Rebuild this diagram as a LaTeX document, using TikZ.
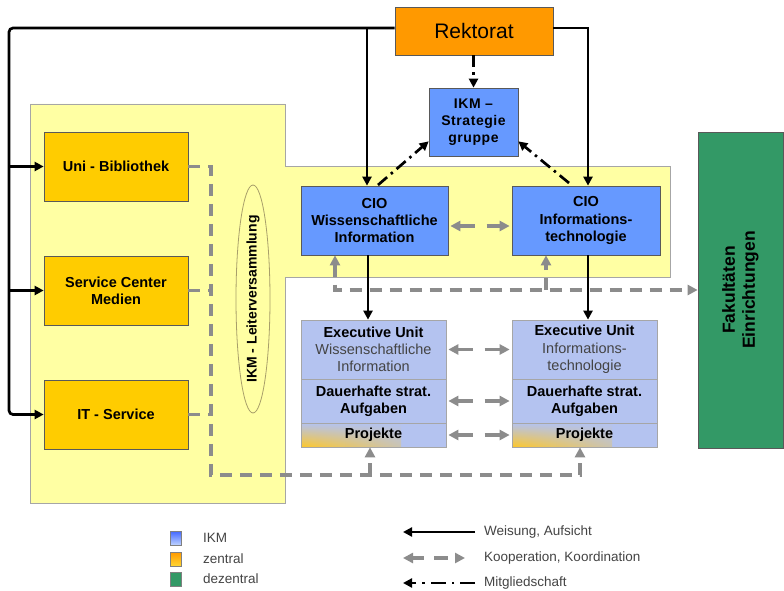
\documentclass[tikz,border=0pt]{standalone}
\usepackage{fontspec}
\setmainfont{Liberation Sans}
\usetikzlibrary{arrows.meta,calc,shapes.geometric,fadings}
\definecolor{ikm}{HTML}{6699FF}
\definecolor{zen}{HTML}{FFCC00}
\definecolor{rek}{HTML}{FF9900}
\definecolor{dez}{HTML}{339966}
\definecolor{eu}{HTML}{B4C3F0}
\definecolor{yel}{HTML}{FFFFA3}
\definecolor{gline}{HTML}{8C8C8C}
\definecolor{txt}{HTML}{444444}
\definecolor{projor}{HTML}{FFC829}
\definecolor{ellc}{HTML}{A89F6A}
\begin{document}
\begin{tikzpicture}[x=1pt,y=-1pt,
  box/.style={draw=black!65, line width=0.7pt, inner sep=0pt, align=center, font=\fontsize{14.5}{17.3}\selectfont\bfseries},
  blk/.style={line width=2.7pt, draw=black},
  dd/.style={line width=2.7pt, draw=black, dash pattern=on 12pt off 5pt on 2.5pt off 5pt},
  gd/.style={line width=3.2pt, draw=gline, dash pattern=on 12pt off 8pt},
  gdd/.style={line width=3.2pt, draw=gline, dash pattern=on 15pt off 12pt, {Triangle[length=10pt,width=10pt]}-{Triangle[length=10pt,width=10pt]}, shorten <=2pt, shorten >=2pt},
  bt/.style={-{Triangle[length=9pt,width=9pt]}},
  gt/.style={-{Triangle[length=10pt,width=10pt]}},
  lab/.style={font=\fontsize{13.5}{16}\selectfont, text=txt, anchor=west, inner sep=0pt},
  proj/.style={box, fill=eu, path picture={\shade[left color=projor, right color=eu, path fading=north] (path picture bounding box.south west) rectangle ($(path picture bounding box.north west)+(100,0)$);}}
]
\useasboundingbox (0,0) rectangle (784,591);
\fill[white] (0,0) rectangle (784,591);

% yellow region
\draw[fill=yel, draw=black!35, line width=0.7pt] (30,104) -- (285,104) -- (285,166) -- (670,166) -- (670,277) -- (285,277) -- (285,503) -- (30,503) -- cycle;

% nodes
\node[box, fill=rek, minimum width=158, minimum height=48, font=\fontsize{21}{24}\selectfont] (rek) at (474,31) {Rektorat};
\node[box, fill=ikm, minimum width=89, minimum height=68, font=\fontsize{14}{17}\selectfont\bfseries\addfontfeature{LetterSpace=4}] (ikms) at (473.5,122) {IKM –\\Strategie\\gruppe};
\node[box, fill=ikm, minimum width=147, minimum height=69] (ciowi) at (374.5,220.5) {CIO\\Wissenschaftliche\\Information};
\node[box, fill=ikm, minimum width=148, minimum height=69] (cioit) at (586,220.5) {CIO\\Informations-\\technologie};

\node[box, fill=zen, minimum width=144, minimum height=69] (uni) at (116,166.5) {Uni - Bibliothek};
\node[box, fill=zen, minimum width=144, minimum height=69] (scm) at (116,290.5) {Service Center\\Medien};
\node[box, fill=zen, minimum width=144, minimum height=69] (its) at (116,414.5) {IT - Service};

\node[box, fill=eu, draw=black!35, minimum width=145, minimum height=59] (euwi1) at (373.5,349.5) {Executive Unit\\\mdseries\color{txt}Wissenschaftliche\\\mdseries\color{txt}Information};
\node[box, fill=eu, draw=black!35, minimum width=145, minimum height=44] (euwi2) at (373.5,401) {Dauerhafte strat.\\Aufgaben};
\node[proj, draw=black!35, minimum width=145, minimum height=24] (euwi3) at (373.5,435) {Projekte};

\node[box, fill=eu, draw=black!35, minimum width=145, minimum height=59] (euit1) at (584.5,349.5) {Executive Unit\\\mdseries\color{txt}Informations-\\\mdseries\color{txt}technologie};
\node[box, fill=eu, draw=black!35, minimum width=145, minimum height=44] (euit2) at (584.5,401) {Dauerhafte strat.\\Aufgaben};
\node[proj, draw=black!35, minimum width=145, minimum height=24] (euit3) at (584.5,435) {Projekte};

\node[box, fill=dez, minimum width=85, minimum height=316] (fak) at (740.5,290) {};
\node[rotate=90, align=center, inner sep=0pt, font=\fontsize{17.5}{20}\selectfont\bfseries] (faktext) at (fak.center) {Fakultäten\\Einrichtungen};

\node[ellipse, draw=ellc, line width=0.8pt, minimum width=34, minimum height=228, inner sep=0pt] (lv) at (253,299) {};
\node[rotate=90, inner sep=0pt, font=\fontsize{14}{17}\selectfont\bfseries] (lvtext) at (lv.center) {IKM - Leiterversammlung};

% black lines
\coordinate (L1) at (9,28);
\coordinate (vA) at (367,28);
\coordinate (vB) at (588,28);
\draw[blk, bt, rounded corners=4pt] (rek.west |- L1) -- (L1) |- (its.west);
\draw[blk, bt] (L1 |- uni.west) -- (uni.west);
\draw[blk, bt] (L1 |- scm.west) -- (scm.west);
\draw[blk, bt] (vA) -- (vA |- ciowi.north);
\draw[blk, bt] (rek.east |- vB) -- (vB) -- (vB |- cioit.north);
\coordinate (cA) at (368,0);
\coordinate (cB) at (588,0);
\draw[blk, bt] (cA |- ciowi.south) -- (cA |- euwi1.north);
\draw[blk, bt] (cB |- cioit.south) -- (cB |- euit1.north);

% dash-dot (Mitgliedschaft)
\draw[dd, bt] (rek.south -| ikms.north) -- (ikms.north);
\coordinate (dA) at (378,185);
\coordinate (dB) at (569,183);
\draw[dd, bt] (dA) -- ($(ikms.south west)+(0,-15)$);
\draw[dd, bt] (dB) -- ($(ikms.south east)+(0,-15)$);

% gray dashed (Kooperation)
\draw[gdd] ([yshift=-5.5pt]ciowi.east) -- ([yshift=-5.5pt]cioit.west);
\draw[gdd] (euwi1.east) -- (euit1.west);
\draw[gdd] (euwi2.east) -- (euit2.west);
\draw[gdd] (euwi3.east) -- (euit3.west);

\coordinate (hC) at (335,290);
\coordinate (hD) at (546,290);
\draw[gd, {Triangle[length=10pt,width=10pt]}-{Triangle[length=10pt,width=10pt]}] (hC |- ciowi.south) -- (hC) -- (fak.west |- hC);
\draw[gd, gt] (hD) -- (hD |- cioit.south);

\coordinate (vL) at (211,475);
\coordinate (pA) at (370,475);
\coordinate (pB) at (580,475);
\draw[gd, gt] (uni.east) -| (vL) -- (pB) -- (pB |- euit3.south);
\draw[gd, gt] (pA) -- (pA |- euwi3.south);
\draw[gd] (scm.east) -- (scm.east -| vL);
\draw[gd] (its.east) -- (its.east -| vL);

% legend
\node[draw=black!50, line width=0.5pt, top color=ikm!70!blue, bottom color=ikm!40!white, minimum width=11, minimum height=14, inner sep=0pt] (sq1) at (176,538.5) {};
\node[draw=black!50, line width=0.5pt, top color=rek, bottom color=zen!80!white, minimum width=11, minimum height=14, inner sep=0pt] (sq2) at (176,559) {};
\node[draw=black!50, line width=0.5pt, fill=dez, minimum width=11, minimum height=14, inner sep=0pt] (sq3) at (176,579.5) {};
\node[lab] (t1) at (203,538) {IKM};
\node[lab] (t2) at (203,558.5) {zentral};
\node[lab] (t3) at (203,579) {dezentral};

\node[lab] (l1) at (484,532) {Weisung, Aufsicht};
\node[lab] (l2) at (484,558) {Kooperation, Koordination};
\node[lab] (l3) at (484,583) {Mitgliedschaft};
\draw[blk, bt] ([xshift=-9pt]l1.west) -- ([xshift=-81pt]l1.west);
\draw[gd, dash pattern=on 12pt off 10pt on 14pt off 30pt, {Triangle[length=10pt,width=10pt]}-{Triangle[length=10pt,width=10pt]}] ([xshift=-81pt]l2.west) -- ([xshift=-19pt]l2.west);
\draw[dd, dash pattern=on 15pt off 6pt on 2.5pt off 6pt, bt] ([xshift=-9pt]l3.west) -- ([xshift=-81pt]l3.west);
\end{tikzpicture}
\end{document}
